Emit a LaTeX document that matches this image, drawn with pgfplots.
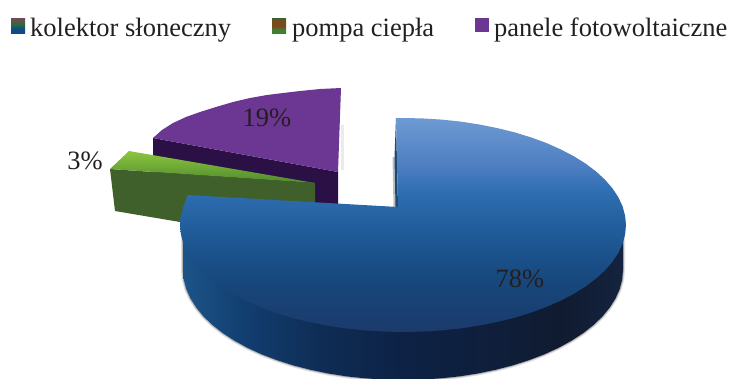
\documentclass[border=0pt]{standalone}
\usepackage{pgfplots}
\usepackage{pgfplotstable}
\pgfplotsset{compat=1.18}
\usepackage{fontspec}
\setmainfont{Liberation Serif}
\definecolor{txt}{HTML}{231F20}
\definecolor{HTMLpurple}{HTML}{2A1044}
\definecolor{HTMLtop}{HTML}{6C3693}
\definecolor{HTMLgreen}{HTML}{40602B}
\definecolor{HTMLlg}{HTML}{8CC63F}
\definecolor{HTMLmg}{HTML}{4F8A2E}
\definecolor{HTMLinner}{HTML}{1D4A70}
\definecolor{c1}{HTML}{1B3A6B}\definecolor{c2}{HTML}{17477C}\definecolor{c3}{HTML}{1C5590}
\definecolor{c4}{HTML}{2E6EB2}\definecolor{c5}{HTML}{4F7FC2}\definecolor{c6}{HTML}{6D9AD2}
\definecolor{s1}{HTML}{1C5488}\definecolor{s2}{HTML}{123E70}\definecolor{s3}{HTML}{0E2C54}
\definecolor{s4}{HTML}{0D2245}\definecolor{s5}{HTML}{0F1E3A}\definecolor{s6}{HTML}{101B30}\definecolor{s7}{HTML}{14233F}
\definecolor{l1a}{HTML}{6B4F50}\definecolor{l1b}{HTML}{2E6A3A}\definecolor{l1c}{HTML}{0F4A8A}
\definecolor{l2a}{HTML}{3F5F2B}\definecolor{l2b}{HTML}{7A4A1C}\definecolor{l2c}{HTML}{3F7F30}
\pgfdeclareverticalshading{bluetop}{100bp}{
 color(0bp)=(c1); color(25bp)=(c1); color(37bp)=(c2); color(45bp)=(c3); color(58bp)=(c4); color(64bp)=(c5); color(75bp)=(c6); color(100bp)=(c6)}
\pgfdeclarehorizontalshading{blueside}{100bp}{
 color(0bp)=(s1); color(25bp)=(s1); color(32bp)=(s2); color(41bp)=(s3); color(50bp)=(s4); color(61bp)=(s5); color(68bp)=(s6); color(75bp)=(s7); color(100bp)=(s7)}
\pgfdeclareverticalshading{legone}{100bp}{
 color(0bp)=(l1c); color(25bp)=(l1c); color(38bp)=(l1c); color(55bp)=(l1b); color(68bp)=(l1a); color(75bp)=(l1a); color(100bp)=(l1a)}
\pgfdeclareverticalshading{legtwo}{100bp}{
 color(0bp)=(l2c); color(25bp)=(l2c); color(35bp)=(l2c); color(48bp)=(l2b); color(66bp)=(l2b); color(75bp)=(l2a); color(100bp)=(l2a)}
\pgfplotstableread{
x y
396 118
403 118
422.4 118.4
441.7 119.6
460.8 121.6
479.3 124.5
497.3 128.1
514.5 132.3
531 137.4
546.4 143
560.7 149.4
573.8 156.2
585.6 163.6
596.1 171.5
605 179.7
612.5 188.4
618.4 197.3
622.6 206.4
625.1 215.7
626 225
625.1 234.3
622.6 243.6
618.4 252.7
612.5 261.6
605 270.3
596.1 278.5
585.6 286.4
573.8 293.8
560.7 300.6
546.4 307
531 312.6
514.5 317.7
497.3 321.9
479.3 325.5
460.8 328.4
441.7 330.4
422.4 331.6
403 332
383.6 331.6
364.3 330.4
345.2 328.4
326.7 325.5
308.7 321.9
291.5 317.7
275 312.6
259.6 307
245.3 300.6
232.2 293.8
220.4 286.4
209.9 278.5
201 270.3
193.5 261.6
187.6 252.7
183.4 243.6
180.9 234.3
180 225
180.9 215.7
183.4 206.4
187.6 195
398 207
}\bluetop
\pgfplotstableread{
x y
623 225
623 270
622.2 279.6
619.7 289.1
615.5 298.5
609.7 307.6
602.4 316.5
593.5 325
583.2 333.1
571.5 340.7
558.6 347.8
544.4 354.3
529.2 360.1
513 365.3
496 369.7
478.2 373.4
459.9 376.3
441.2 378.3
422.2 379.6
403 380
383.8 379.6
364.8 378.3
346.1 376.3
327.8 373.4
310 369.7
293 365.3
276.8 360.1
261.6 354.3
247.4 347.8
234.5 340.7
222.8 333.1
212.5 325
203.6 316.5
196.3 307.6
190.5 298.5
186.3 289.1
183.8 279.6
183 270
183 225
}\blueside
\begin{document}
\begin{tikzpicture}
\useasboundingbox (0,0) rectangle (733pt,378pt);
\begin{axis}[
  scale only axis, width=733pt, height=378pt,
  xmin=0, xmax=733, ymin=0, ymax=378, y dir=reverse,
  hide axis, clip=true,
]
% shadows
\addplot[draw=black!12, line width=4pt] table {\blueside};
\addplot[draw=black!30, line width=1.8pt] table {\blueside};
\addplot[draw=black!8, line width=3pt] coordinates {(342,125) (342,170)};
\addplot[draw=black!25, line width=3pt] coordinates {(394,157) (395,207)};
% purple slice
\addplot[fill=HTMLpurple, draw=none] coordinates {(153,138) (338,172) (338,215) (153,185)} -- cycle;
\addplot[fill=HTMLtop, draw=none] coordinates {(341,88) (320,89) (300,91) (283,93) (267,95) (250,98) (233,102) (216,107) (200,112) (186,117) (173,123) (162,130) (153,138) (338,172)} -- cycle;
% green slice
\addplot[fill=HTMLgreen, draw=none] coordinates {(110,169) (315,183) (315,222) (180,222) (115,211)} -- cycle;
\addplot[shade, top color=HTMLlg, bottom color=HTMLmg, draw=none] coordinates {(129,151) (110,169) (315,183)} -- cycle;
% blue slice
\addplot[draw=none, fill=HTMLinner] coordinates {(396,118) (394.5,157) (395.5,207) (398,207)} -- cycle;
\addplot[shading=blueside, draw=none] table {\blueside} -- cycle;
\addplot[shading=bluetop, draw=none] table {\bluetop} -- cycle;
% legend keys
\addplot[shading=legone, draw=none] coordinates {(11,18) (25,18) (25,33) (11,33)} -- cycle;
\addplot[shading=legtwo, draw=none] coordinates {(272,18) (286,18) (286,33) (272,33)} -- cycle;
\addplot[fill=HTMLtop, draw=none] coordinates {(475,18) (489,18) (489,32) (475,32)} -- cycle;
% text
\tikzset{lab/.style={text=txt, inner sep=0pt, font=\fontsize{26.5}{30}\selectfont}}
\node[lab, anchor=base west] at (axis cs:30,36) {kolektor słoneczny};
\node[lab, anchor=base west] at (axis cs:292,36) {pompa ciepła};
\node[lab, anchor=base west] at (axis cs:494,36) {panele fotowoltaiczne};
\node[lab] at (axis cs:267,118) {19\%};
\node[lab] at (axis cs:85,161) {3\%};
\node[lab] at (axis cs:520,279) {78\%};
\end{axis}
\end{tikzpicture}
\end{document}
